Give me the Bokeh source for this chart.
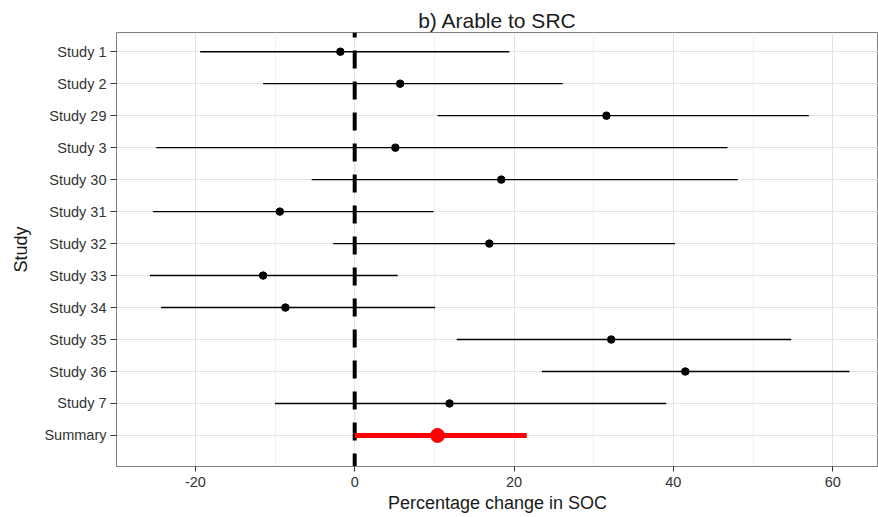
from bokeh.plotting import figure
from bokeh.models import Range1d, FixedTicker, ColumnDataSource
from bokeh.embed import file_html
from bokeh.resources import INLINE

studies = ["Study 1", "Study 2", "Study 29", "Study 3", "Study 30", "Study 31",
           "Study 32", "Study 33", "Study 34", "Study 35", "Study 36", "Study 7"]
est = [-1.8, 5.7, 31.6, 5.1, 18.4, -9.4, 16.9, -11.5, -8.7, 32.2, 41.5, 11.9]
lower = [-19.4, -11.5, 10.4, -24.9, -5.4, -25.3, -2.7, -25.7, -24.3, 12.8, 23.5, -10.0]
upper = [19.4, 26.1, 57.0, 46.8, 48.1, 9.9, 40.2, 5.4, 10.1, 54.8, 62.1, 39.1]

summary_label = "Summary"
summary_est = 10.4
summary_lower = 0.0
summary_upper = 21.6

xticks = [-20, 0, 20, 40, 60]
xtick_labels = ["-20", "0", "20", "40", "60"]
xminor = [-30, -10, 10, 30, 50]

labels = studies + [summary_label]
n = len(labels)
ypos = [n - i for i in range(n)]  # Study 1 at top

FONT = "Liberation Sans"

p = figure(width=878, height=517, output_backend="svg", toolbar_location=None,
           x_range=Range1d(-29.9, 65.75), y_range=Range1d(0.03, 13.6),
           min_border_left=116, min_border_right=0, min_border_top=32,
           min_border_bottom=51, title="b) Arable to SRC")
p.background_fill_color = "white"
p.border_fill_color = "white"
p.outline_line_color = "#7f7f7f"
p.outline_line_width = 1

p.title.align = "center"
p.title.text_font = FONT
p.title.text_font_size = "21px"
p.title.text_font_style = "normal"
p.title.text_color = "#1a1a1a"
p.title.standoff = 2

# grids
p.xgrid.ticker = FixedTicker(ticks=xticks, minor_ticks=xminor)
p.xgrid.grid_line_color = "#e3e3e3"
p.xgrid.grid_line_width = 1
p.xgrid.minor_grid_line_color = "#f1f1f1"
p.xgrid.minor_grid_line_width = 1
p.ygrid.ticker = FixedTicker(ticks=ypos)
p.ygrid.grid_line_color = "#e3e3e3"
p.ygrid.grid_line_width = 1

# axes
p.xaxis.ticker = FixedTicker(ticks=xticks, minor_ticks=[])
p.xaxis.major_label_overrides = {t: l for t, l in zip(xticks, xtick_labels)}
p.yaxis.ticker = FixedTicker(ticks=ypos, minor_ticks=[])
p.yaxis.major_label_overrides = {y: l for y, l in zip(ypos, labels)}
for ax in (p.xaxis[0], p.yaxis[0]):
    ax.axis_line_color = "#7f7f7f"
    ax.major_tick_line_color = "#333333"
    ax.major_tick_in = 0
    ax.minor_tick_line_color = None
    ax.major_label_text_font = FONT
    ax.major_label_text_font_size = "14.5px"
    ax.major_label_text_color = "#333333"
    ax.axis_label_text_font = FONT
    ax.axis_label_text_font_size = "18px"
    ax.axis_label_text_font_style = "normal"
    ax.axis_label_text_color = "#1a1a1a"
p.xaxis.major_tick_out = 5
p.yaxis.major_tick_out = 6
p.xaxis.major_label_standoff = 5
p.yaxis.major_label_standoff = 4
p.xaxis.axis_label = "Percentage change in SOC"
p.yaxis.axis_label = "Study"
p.xaxis.axis_label_standoff = 3
p.yaxis.axis_label_standoff = 10

# study intervals
src = ColumnDataSource(dict(y=ypos[:-1], est=est, lo=lower, hi=upper))
p.segment(x0="lo", x1="hi", y0="y", y1="y", source=src, line_color="black", line_width=1.4)
p.scatter(x="est", y="y", source=src, size=7.5, color="black")

# reference line at zero
p.line(x=[0, 0], y=[13.6, 0.03], line_color="black", line_width=4,
       line_dash="18 13", line_dash_offset=13)

# summary
p.segment(x0=[summary_lower], x1=[summary_upper], y0=[ypos[-1]], y1=[ypos[-1]],
          line_color="#ff0000", line_width=5)
p.scatter(x=[summary_est], y=[ypos[-1]], size=14, color="#ff0000")

open("out.html", "w").write(file_html(p, INLINE))
